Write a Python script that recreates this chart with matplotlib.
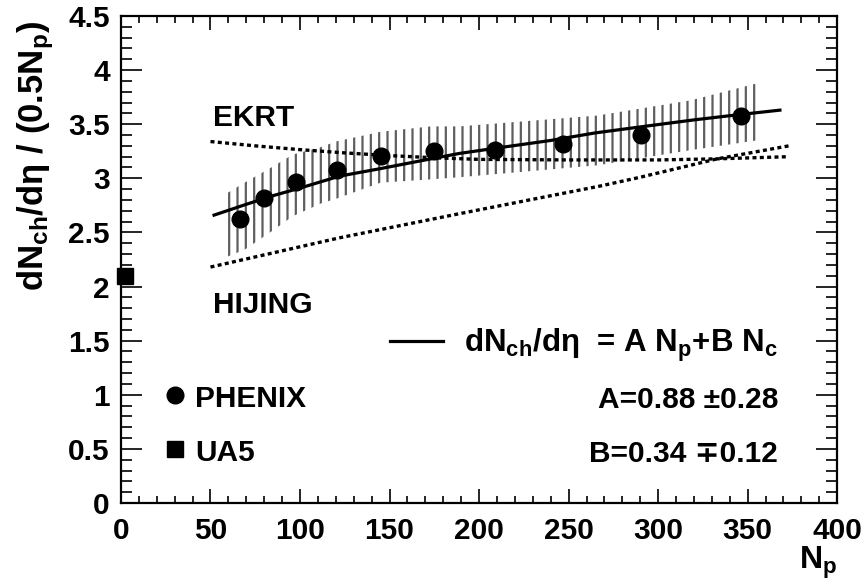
import matplotlib
matplotlib.use('Agg')
import matplotlib.pyplot as plt
from matplotlib.ticker import MultipleLocator, FormatStrFormatter

plt.rcParams['font.family'] = ['Liberation Sans', 'DejaVu Sans']
plt.rcParams['font.weight'] = 'bold'
plt.rcParams['axes.labelweight'] = 'bold'
plt.rcParams['mathtext.fontset'] = 'custom'
plt.rcParams['mathtext.rm'] = 'Liberation Sans:bold'
plt.rcParams['mathtext.it'] = 'Liberation Sans:bold'
plt.rcParams['mathtext.bf'] = 'Liberation Sans:bold'
plt.rcParams['mathtext.default'] = 'rm'
plt.rcParams['hatch.linewidth'] = 1.6

# PHENIX points, dN/deta per participant pair vs N_part
phenix_np = [66.5, 80, 98, 120.5, 145.5, 175, 209, 247, 290.5, 346]
phenix_y = [2.62, 2.82, 2.97, 3.08, 3.21, 3.25, 3.26, 3.32, 3.40, 3.58]

# UA5 p+pbar point
ua5_np = [2.2]
ua5_y = [2.10]

# fit A*Np + B*Nc
fit_np = [52, 70, 85, 100, 122, 145, 170, 189, 210, 240, 265, 290, 320, 346, 368]
fit_y = [2.66, 2.76, 2.84, 2.91, 3.02, 3.09, 3.17, 3.23, 3.28, 3.35, 3.42, 3.475, 3.54, 3.59, 3.63]

# fit error band
band_np = [57, 69, 85, 96, 112, 120, 145, 173, 189, 266, 318, 357]
band_hi = [2.84, 2.96, 3.11, 3.22, 3.29, 3.34, 3.43, 3.48, 3.48, 3.58, 3.72, 3.885]
band_lo = [2.26, 2.34, 2.52, 2.65, 2.77, 2.81, 2.96, 2.99, 3.01, 3.12, 3.26, 3.355]

# model curves
ekrt_np = [50, 75, 100, 125, 150, 175, 200, 250, 300, 333, 373]
ekrt_y = [3.34, 3.30, 3.265, 3.235, 3.21, 3.19, 3.175, 3.17, 3.17, 3.18, 3.20]
hijing_np = [50, 122, 185, 268, 290, 333, 373]
hijing_y = [2.18, 2.45, 2.66, 2.93, 3.01, 3.18, 3.30]

fig = plt.figure(figsize=(8.64, 5.88), dpi=100)
ax = fig.add_axes([0.140, 0.1446, 0.829, 0.8282])

ax.fill_between(band_np, band_lo, band_hi, facecolor='none', edgecolor='#5e5e5e',
                hatch='||', linewidth=0)
dots = (0, (1.2, 1.0))
ax.plot(ekrt_np, ekrt_y, color='black', lw=2.4, linestyle=dots)
ax.plot(hijing_np, hijing_y, color='black', lw=2.4, linestyle=dots)
ax.plot(fit_np, fit_y, color='black', lw=2.3)
ax.plot(phenix_np, phenix_y, 'o', color='black', ms=12)
ax.plot(ua5_np, ua5_y, 's', color='black', ms=11, clip_on=False)

ax.set_xlim(0, 400)
ax.set_ylim(0, 4.5)
ax.xaxis.set_major_locator(MultipleLocator(50))
ax.xaxis.set_minor_locator(MultipleLocator(10))
ax.yaxis.set_major_locator(MultipleLocator(0.5))
ax.yaxis.set_minor_locator(MultipleLocator(0.1))
ax.yaxis.set_major_formatter(FormatStrFormatter('%g'))

ax.tick_params(which='both', direction='in', top=True, right=True, width=1.2,
               labelsize=21.5)
ax.tick_params(axis='y', which='major', length=15, pad=8)
ax.tick_params(axis='y', which='minor', length=8)
ax.tick_params(axis='x', which='major', length=10, pad=10)
ax.tick_params(axis='x', which='minor', length=5)
for s in ax.spines.values():
    s.set_linewidth(1.6)

ax.set_ylabel(r'dN$_{ch}$/dη / (0.5N$_p$)', fontsize=25, fontweight='bold', loc='top')
ax.yaxis.set_label_coords(-0.090, 0.99)
ax.set_xlabel(r'N$_p$', fontsize=23, fontweight='bold', loc='right')
ax.xaxis.set_label_coords(1.0, -0.085)

ax.text(51.5, 3.48, 'EKRT', fontsize=21.5)
ax.text(51.5, 1.755, 'HIJING', fontsize=21.5)

ax.plot([30.2], [1.0], 'o', color='black', ms=12)
ax.text(41.3, 0.887, 'PHENIX', fontsize=21.5)
ax.plot([30.2], [0.5], 's', color='black', ms=11)
ax.text(41.3, 0.39, 'UA5', fontsize=21.5)

ax.plot([150.3, 180], [1.497, 1.497], color='black', lw=2.3)
ax.text(367, 1.40, r'dN$_{ch}$/dη  = A N$_p$+B N$_c$', fontsize=22.5, ha='right')
ax.text(367, 0.88, 'A=0.88 ±0.28', fontsize=21.5, ha='right')
ax.text(367, 0.38, 'B=0.34 ∓0.12', fontsize=21.5, ha='right')

fig.savefig('out.png', dpi=100)
